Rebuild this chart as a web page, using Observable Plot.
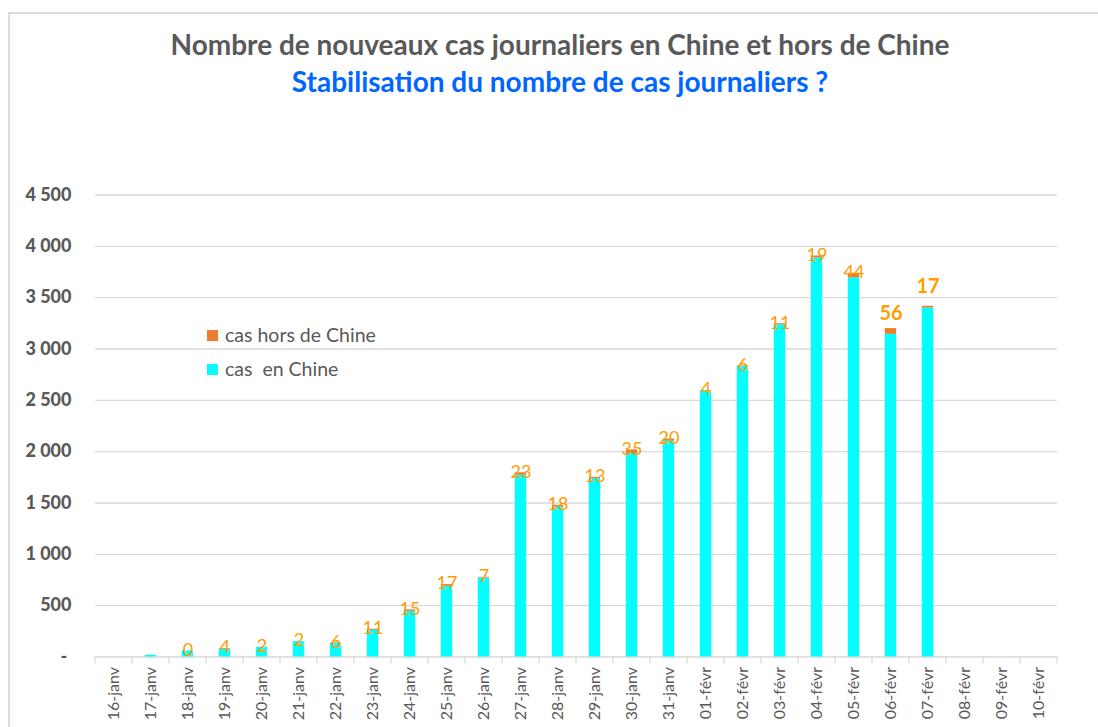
<!DOCTYPE html>
<html>
<head>
<meta charset="utf-8">
<script src="https://cdn.jsdelivr.net/npm/d3@7"></script>
<script src="https://cdn.jsdelivr.net/npm/@observablehq/plot@0.6"></script>
<style>
  html, body { margin: 0; padding: 0; background: #fff; }
  #wrap { position: relative; width: 1098px; height: 727px; overflow: hidden; font-family: Lato, "Open Sans", sans-serif; }
  #border { position: absolute; left: 8px; top: 12px; width: 1200px; height: 900px; border-left: 2px solid #dcdcdc; border-top: 2px solid #dcdcdc; }
  #title { position: absolute; top: 27px; left: 0; width: 1120px; text-align: center; font-weight: 700; font-size: 28px; line-height: 34px; color: #595959; white-space: nowrap; }
  #subtitle { position: absolute; top: 64px; left: 0; width: 1120px; text-align: center; font-weight: 700; font-size: 28px; line-height: 34px; color: #0066FF; white-space: nowrap; }
  #chart { position: absolute; left: 0; top: 110px; }
  .legend { position: absolute; left: 207px; font-size: 19.5px; line-height: 24px; color: #595959; display: flex; align-items: center; white-space: pre; }
  .legend .sw { width: 11px; height: 11px; margin-right: 7px; }
</style>
</head>
<body>
<div id="wrap">
  <div id="border"></div>
  <div id="title">Nombre de nouveaux cas journaliers en Chine et hors de Chine</div>
  <div id="subtitle">Stabilisation du nombre de cas journaliers ?</div>
  <div id="chart"></div>
  <div class="legend" style="top:323px"><div class="sw" style="background:#ED7D31"></div>cas hors de Chine</div>
  <div class="legend" style="top:357px"><div class="sw" style="background:#00FFFF"></div>cas  en Chine</div>
</div>
<script>
// ---- data ----
const dates = ["16-janv","17-janv","18-janv","19-janv","20-janv","21-janv","22-janv","23-janv","24-janv","25-janv","26-janv","27-janv","28-janv","29-janv","30-janv","31-janv","01-févr","02-févr","03-févr","04-févr","05-févr","06-févr","07-févr","08-févr","09-févr","10-févr"];
const casChine = [null,17,59,77,93,149,131,259,444,688,769,1771,1459,1737,1982,2102,2590,2829,3235,3887,3694,3143,3399,null,null,null];
const casHorsChine = [null,null,0,4,2,2,6,11,15,17,7,23,18,13,35,20,4,6,11,19,44,56,17,null,null,null];
const yTicks = [0,500,1000,1500,2000,2500,3000,3500,4000,4500];
const seriesNames = ["cas  en Chine","cas hors de Chine"];

// ---- styles ----
const colors = {"cas  en Chine": "#00FFFF", "cas hors de Chine": "#ED7D31"};
const labelColor = "#FF9C00";
const liftedLabels = {"06-févr": 15, "07-févr": 20};

const rows = [];
dates.forEach((d, i) => {
  if (casChine[i] != null) rows.push({date: d, serie: seriesNames[0], value: casChine[i]});
  if (casHorsChine[i] != null) rows.push({date: d, serie: seriesNames[1], value: casHorsChine[i]});
});
const labels = dates.map((d, i) => ({date: d, total: (casChine[i] || 0) + (casHorsChine[i] || 0), out: casHorsChine[i]}))
  .filter(d => d.out != null);
const normalLabels = labels.filter(d => !(d.date in liftedLabels));
const bigLabels = labels.filter(d => d.date in liftedLabels);

const locale = d3.formatLocale({decimal: ",", thousands: "\u00a0", grouping: [3]});
const fmt = locale.format(",");
const yFormat = v => v === 0 ? "-\u00a0" : fmt(v);

function bandTicks(index, scales) {
  const x = scales.x, y = scales.y;
  const bw = x.bandwidth ? x.bandwidth() : (x(dates[1]) - x(dates[0]));
  const y0 = y(0);
  const g = d3.create("svg:g");
  const edges = dates.map(d => x(d)).concat([x(dates[dates.length - 1]) + bw]);
  for (const e of edges) {
    g.append("line").attr("x1", e).attr("x2", e).attr("y1", y0).attr("y2", y0 + 7)
      .attr("stroke", "#d9d9d9").attr("stroke-width", 1.3);
  }
  return g.node();
}

const chart = Plot.plot({
  width: 1098,
  height: 617,
  marginLeft: 95,
  marginRight: 41,
  marginTop: 84.5,
  marginBottom: 70.5,
  style: {fontFamily: "Lato, 'Open Sans', sans-serif", color: "#595959", background: "transparent", overflow: "visible"},
  x: {type: "band", domain: dates, padding: 0, label: null},
  y: {domain: [0, 4500], label: null},
  marks: [
    Plot.gridY(yTicks, {stroke: "#d9d9d9", strokeOpacity: 1, strokeWidth: 1.3}),
    Plot.barY(rows, {x: "date", y: "value", z: "serie", fill: d => colors[d.serie], insetLeft: 12.8, insetRight: 12.8}),
    bandTicks,
    Plot.axisY(yTicks, {tickSize: 0, tickPadding: 24, tickFormat: yFormat, fontSize: 18, fontWeight: 900, label: null}),
    Plot.axisX({tickSize: 0, tickPadding: 10, tickRotate: -90, fontSize: 16, label: null}),
    Plot.text(normalLabels, {x: "date", y: "total", text: d => String(d.out), fill: labelColor, fontSize: 18, lineAnchor: "middle", dy: -1}),
    ...bigLabels.map(l => Plot.text([l], {x: "date", y: "total", text: d => String(d.out), fill: labelColor, fontSize: 20, fontWeight: "bold", lineAnchor: "middle", dy: -liftedLabels[l.date]}))
  ]
});
document.getElementById("chart").appendChild(chart);
</script>
</body>
</html>
